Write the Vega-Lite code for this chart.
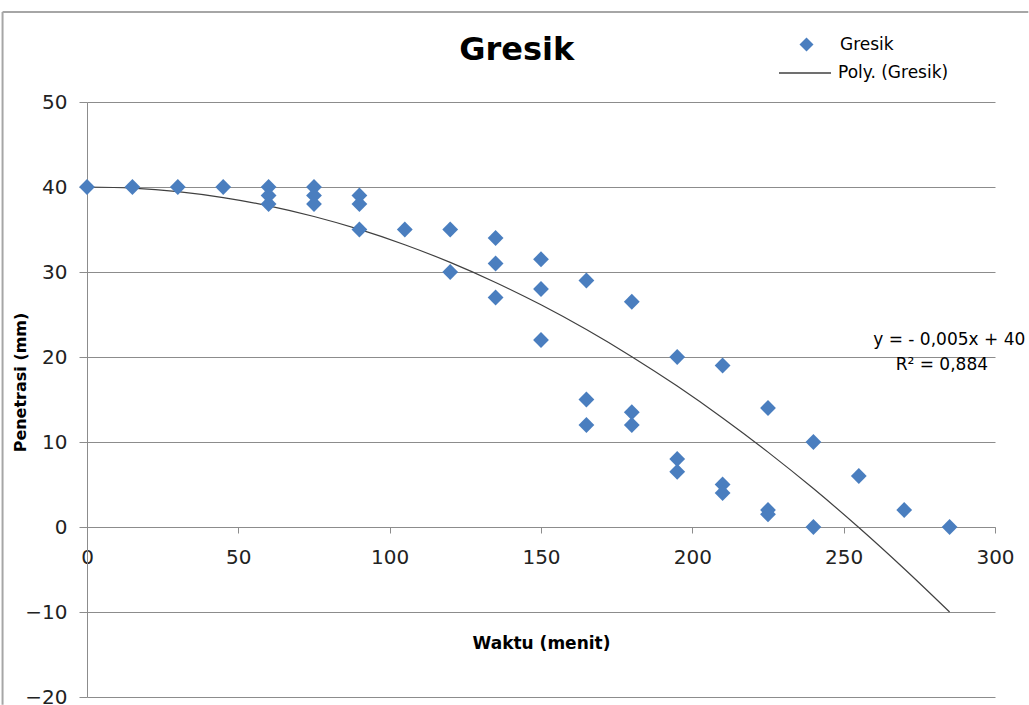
{
  "$schema": "https://vega.github.io/schema/vega-lite/v6.json",
  "width": 908,
  "height": 595,
  "autosize": "none",
  "padding": {"left": 87, "top": 102, "right": 34, "bottom": 8},
  "background": "white",
  "view": {"stroke": null},
  "datasets": {
    "points": [
      {"t": 0, "p": 40}, {"t": 15, "p": 40}, {"t": 30, "p": 40}, {"t": 45, "p": 40},
      {"t": 60, "p": 40}, {"t": 60, "p": 39}, {"t": 60, "p": 38},
      {"t": 75, "p": 40}, {"t": 75, "p": 39}, {"t": 75, "p": 38},
      {"t": 90, "p": 39}, {"t": 90, "p": 38}, {"t": 90, "p": 35},
      {"t": 105, "p": 35},
      {"t": 120, "p": 35}, {"t": 120, "p": 30},
      {"t": 135, "p": 34}, {"t": 135, "p": 31}, {"t": 135, "p": 27},
      {"t": 150, "p": 31.5}, {"t": 150, "p": 28}, {"t": 150, "p": 22},
      {"t": 165, "p": 29}, {"t": 165, "p": 15}, {"t": 165, "p": 12},
      {"t": 180, "p": 26.5}, {"t": 180, "p": 13.5}, {"t": 180, "p": 12},
      {"t": 195, "p": 20}, {"t": 195, "p": 8}, {"t": 195, "p": 6.5},
      {"t": 210, "p": 19}, {"t": 210, "p": 5}, {"t": 210, "p": 4},
      {"t": 225, "p": 14}, {"t": 225, "p": 2}, {"t": 225, "p": 1.5},
      {"t": 240, "p": 10}, {"t": 240, "p": 0},
      {"t": 255, "p": 6}, {"t": 270, "p": 2}, {"t": 285, "p": 0}
    ],
    "trend": [
      {"t": 0, "p": 40}, {"t": 15, "p": 39.86}, {"t": 30, "p": 39.45}, {"t": 45, "p": 38.75},
      {"t": 60, "p": 37.78}, {"t": 75, "p": 36.53}, {"t": 90, "p": 35.01}, {"t": 105, "p": 33.21},
      {"t": 120, "p": 31.13}, {"t": 135, "p": 28.77}, {"t": 150, "p": 26.14}, {"t": 165, "p": 23.23},
      {"t": 180, "p": 20.04}, {"t": 195, "p": 16.58}, {"t": 210, "p": 12.83}, {"t": 225, "p": 8.81},
      {"t": 240, "p": 4.52}, {"t": 255, "p": -0.06}, {"t": 270, "p": -4.91}, {"t": 285, "p": -10}
    ],
    "eq": [
      {"t": 310, "p": 22, "label": "y =  - 0,005x + 40"},
      {"t": 297.7, "p": 19.1, "label": "R² = 0,884"}
    ],
    "heading": [
      {"t": 142, "p": 56.1, "label": "Gresik"}
    ],
    "frameV": [
      {"t": -27.9, "p": 60.6, "p2": -20.9}
    ],
    "frameH": [
      {"t": -27.9, "t2": 311, "p": 60.6}
    ]
  },
  "resolve": {"scale": {"color": "independent"}, "legend": {"color": "independent"}},
  "layer": [
    {
      "data": {"name": "frameV"},
      "mark": {"type": "rule", "stroke": "#a6a6a6", "strokeWidth": 2},
      "encoding": {
        "x": {"field": "t", "type": "quantitative"},
        "y": {"field": "p", "type": "quantitative"},
        "y2": {"field": "p2"}
      }
    },
    {
      "data": {"name": "frameH"},
      "mark": {"type": "rule", "stroke": "#a6a6a6", "strokeWidth": 2},
      "encoding": {
        "x": {"field": "t", "type": "quantitative"},
        "x2": {"field": "t2"},
        "y": {"field": "p", "type": "quantitative"}
      }
    },
    {
      "data": {"name": "trend"},
      "mark": {"type": "line", "strokeWidth": 1.2, "interpolate": "monotone"},
      "encoding": {
        "x": {"field": "t", "type": "quantitative",
          "scale": {"domain": [0, 300], "nice": false, "zero": false},
          "axis": {"orient": "bottom", "offset": -170, "values": [0, 50, 100, 150, 200, 250, 300],
            "grid": false, "domainColor": "#8c8c8c", "tickColor": "#8c8c8c", "tickSize": 6,
            "labelFont": "DejaVu Sans", "labelFontSize": 20, "labelColor": "#222222", "labelPadding": 14,
            "labelOverlap": false, "labelFlush": false,
            "title": "Waktu (menit)", "titleFont": "DejaVu Sans", "titleFontSize": 17, "titleFontWeight": "bold",
            "titleColor": "#000000", "titlePadding": 68}},
        "y": {"field": "p", "type": "quantitative",
          "scale": {"domain": [-20, 50], "nice": false, "zero": false},
          "axis": {"values": [-20, -10, 0, 10, 20, 30, 40, 50], "grid": true, "gridColor": "#8c8c8c", "gridWidth": 1,
            "domainColor": "#8c8c8c", "tickColor": "#8c8c8c", "tickSize": 8,
            "labelFont": "DejaVu Sans", "labelFontSize": 20, "labelColor": "#222222", "labelPadding": 12,
            "title": "Penetrasi (mm)", "titleFont": "DejaVu Sans", "titleFontSize": 16, "titleFontWeight": 600,
            "titleColor": "#000000", "titleX": -67, "titleY": 280, "titleAlign": "center", "titleBaseline": "middle", "titleAngle": -90}},
        "color": {"datum": "Poly. (Gresik)", "type": "nominal",
          "scale": {"domain": ["Poly. (Gresik)"], "range": ["#404040"]},
          "legend": {"title": null, "orient": "none", "legendX": 691, "legendY": -56, "padding": 0,
            "symbolType": "stroke", "symbolSize": 2704, "symbolStrokeWidth": 1.3, "labelOffset": 6,
            "labelFont": "DejaVu Sans", "labelFontSize": 17, "labelColor": "#000000"}}
      }
    },
    {
      "data": {"name": "points"},
      "mark": {"type": "point", "shape": "diamond", "filled": true, "size": 250, "opacity": 1},
      "encoding": {
        "x": {"field": "t", "type": "quantitative"},
        "y": {"field": "p", "type": "quantitative"},
        "color": {"datum": "Gresik", "type": "nominal",
          "scale": {"domain": ["Gresik"], "range": ["#4A7EBF"]},
          "legend": {"title": null, "orient": "none", "legendX": 711, "legendY": -66, "padding": 0,
            "symbolType": "diamond", "symbolSize": 196, "symbolOpacity": 1, "labelOffset": 25,
            "labelFont": "DejaVu Sans", "labelFontSize": 17, "labelColor": "#000000"}}
      }
    },
    {
      "data": {"name": "eq"},
      "mark": {"type": "text", "align": "right", "baseline": "middle", "font": "DejaVu Sans", "fontSize": 17, "color": "#000000"},
      "encoding": {
        "x": {"field": "t", "type": "quantitative"},
        "y": {"field": "p", "type": "quantitative"},
        "text": {"field": "label"}
      }
    },
    {
      "data": {"name": "heading"},
      "mark": {"type": "text", "align": "center", "baseline": "middle", "font": "DejaVu Sans", "fontSize": 32, "fontWeight": "bold", "color": "#000000"},
      "encoding": {
        "x": {"field": "t", "type": "quantitative"},
        "y": {"field": "p", "type": "quantitative"},
        "text": {"field": "label"}
      }
    }
  ]
}
